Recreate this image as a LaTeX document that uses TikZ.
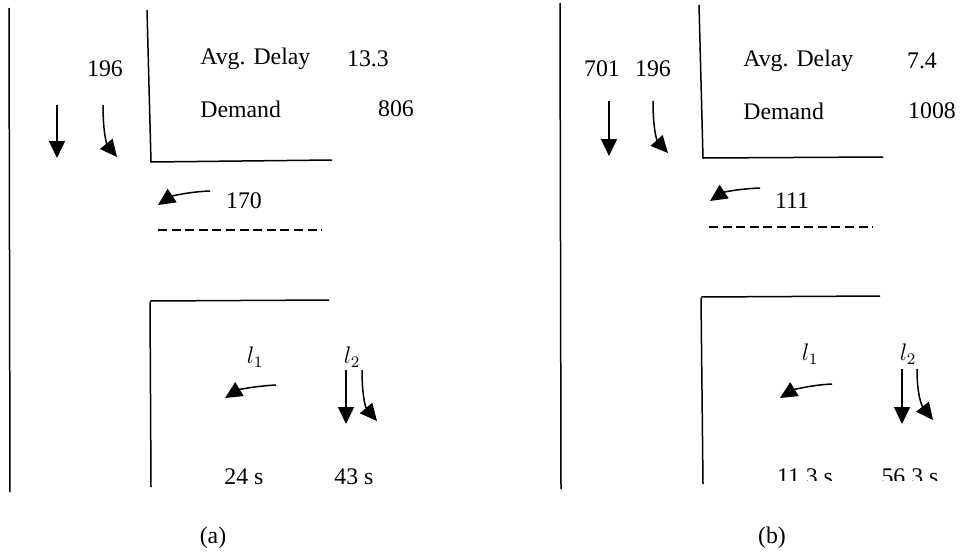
\documentclass[tikz,border=0pt]{standalone}
\usepackage{fontspec}
\setmainfont{Liberation Serif}
\usetikzlibrary{arrows.meta}

\tikzset{
  wall/.style={line width=0.75pt},
  lane/.style={line width=0.75pt, -{Triangle[width=8pt,length=8.5pt]}},
  stopline/.style={line width=0.6pt, dash pattern=on 4.5pt off 2.3pt},
  lbl/.style={inner sep=0pt, font=\fontsize{11.9}{14}\selectfont}
}

\begin{document}
\begin{tikzpicture}[x=0.5pt, y=-0.5pt]
\useasboundingbox (0,0) rectangle (962,557);

% Panel (a): original timing
\begin{scope}
    % road edges
    \draw[wall] (9,8) -- (10,492);
    \draw[wall] (147,10) -- (151,162) -- (332,160);
    \draw[wall] (150,301) -- (329,300);
    \draw[wall] (150,302) -- (151,487);
    \draw[stopline] (158,230) -- (322,230);

    % southbound approach
    \node[lbl] (a196) at (105,69) {196};
    \draw[lane] (57,105) -- (57,158);
    \draw[lane] (103,105) .. controls (103,138) and (108,146) .. (117,157);

    % westbound approach
    \draw[lane] (210,191) .. controls (185,192) and (170,197) .. (158,205);
    \node[lbl] (a170) at (244,201) {170};

    % summary
    \node[lbl, anchor=west] (adelay) at (200,59) {Avg. Delay};
    \node[lbl] (adelayval) at (368,59) {13.3};
    \node[lbl, anchor=west] (ademand) at (200,109) {Demand};
    \node[lbl] (ademandval) at (396,109) {806};

    % lanes l1, l2
    \node[lbl] (al1) at (255,357) {$l_1$};
    \node[lbl] (al2) at (352,357) {$l_2$};
    \draw[lane] (276,385) .. controls (255,386) and (238,390) .. (225,398);
    \draw[lane] (346,370) -- (346,424);
    \draw[lane] (362,370) .. controls (362,398) and (366,408) .. (377,421);
    \node[lbl] (al1time) at (244,477) {24 s};
    \node[lbl] (al2time) at (354,477) {43 s};

    \node[lbl] (acap) at (213,538) {(a)};
\end{scope}

% Panel (b): optimised timing
\begin{scope}[xshift=240pt]
    % road edges
    \draw[wall] (80,3) -- (81,489);
    \draw[wall] (219,5) -- (223,158) -- (403,157);
    \draw[wall] (221,297) -- (400,296);
    \draw[wall] (221,298) -- (223,484);
    \draw[stopline] (229,227) -- (393,227);

    % southbound approach
    \node[lbl] (b701) at (122,69) {701};
    \node[lbl] (b196) at (173,69) {196};
    \draw[lane] (129,101) -- (129,156);
    \draw[lane] (173,101) .. controls (173,134) and (178,142) .. (188,153);

    % westbound approach
    \draw[lane] (280,188) .. controls (255,189) and (242,193) .. (230,201);
    \node[lbl] (b111) at (312,201) {111};

    % summary
    \node[lbl, anchor=west] (bdelay) at (263,61) {Avg. Delay};
    \node[lbl] (bdelayval) at (442,61) {7.4};
    \node[lbl, anchor=west] (bdemand) at (263,111) {Demand};
    \node[lbl] (bdemandval) at (452,111) {1008};

    % lanes l1, l2
    \node[lbl] (bl1) at (330,354) {$l_1$};
    \node[lbl] (bl2) at (428,354) {$l_2$};
    \draw[lane] (352,384) .. controls (331,385) and (313,390) .. (300,398);
    \draw[lane] (422,369) -- (422,424);
    \draw[lane] (437,369) .. controls (437,396) and (442,406) .. (453,420);
    \begin{scope}
        \clip (250,455) rectangle (470,480);
        \node[lbl] (bl1time) at (325,477) {11.3 s};
        \node[lbl] (bl2time) at (430,477) {56.3 s};
    \end{scope}

    \node[lbl] (bcap) at (292,538) {(b)};
\end{scope}
\end{tikzpicture}
\end{document}
